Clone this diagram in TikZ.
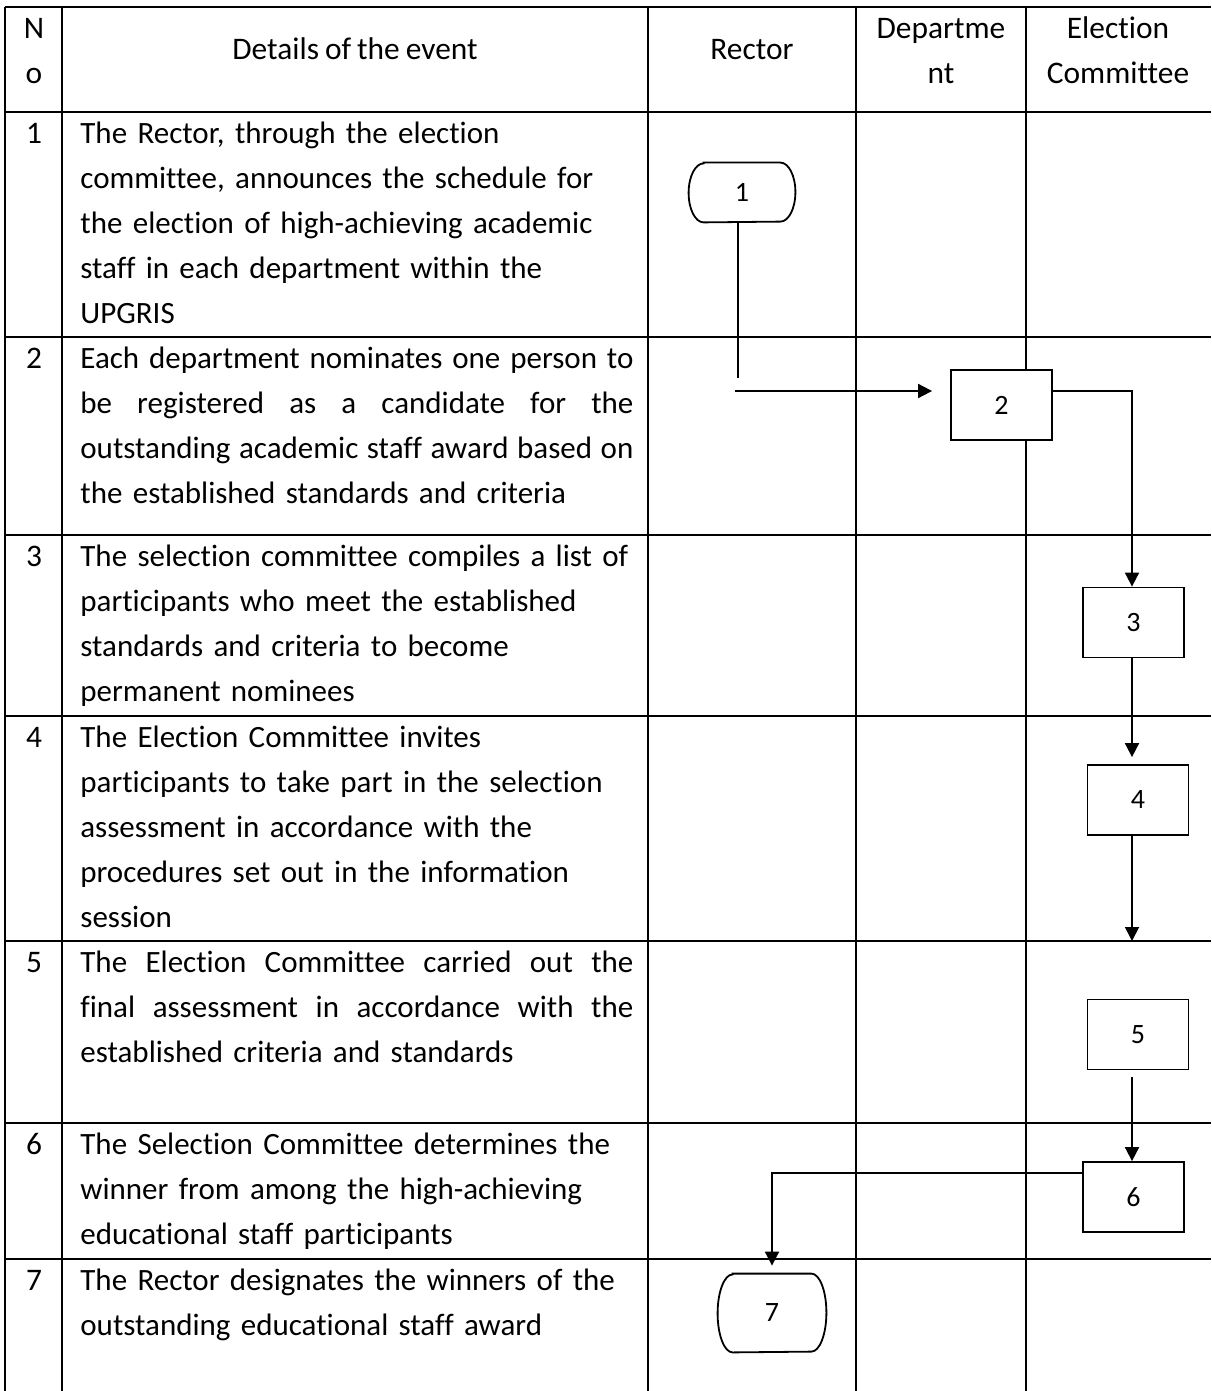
\documentclass[tikz,border=0pt]{standalone}
\usepackage{fontspec}
\setmainfont{Carlito}[Ligatures=NoCommon, WordSpace={0.85,1,2}]
\usetikzlibrary{arrows.meta}
\newcommand{\jline}[1]{\makebox[276.5pt][s]{\spaceskip=0.16em plus 1em\relax #1}}
% terminator outline round a named node: node, end bulge, half height
\newcommand{\termframe}[3]{%
  \draw[line width=0.9pt] ([xshift=#2]#1.north west) -- ([xshift=-#2]#1.north east)
    arc[start angle=90, end angle=-90, x radius=#2, y radius=#3]
    -- ([xshift=#2]#1.south west)
    arc[start angle=270, end angle=90, x radius=#2, y radius=#3] -- cycle;}

\begin{document}
\begin{tikzpicture}[x=0.5pt, y=-0.5pt,
    tabline/.style={line width=1.2pt},
    cell/.style={anchor=north west, inner sep=0pt, text width=290pt, align=left, font=\fontsize{15.5}{22.5}\selectfont},
    head/.style={inner sep=0pt, align=center, font=\fontsize{15.7}{22.5}\selectfont},
    num/.style={anchor=base, inner sep=0pt, font=\fontsize{15.7}{22.5}\selectfont},
    stepbox/.style={draw, line width=0.9pt, fill=white, minimum width=50.5pt, minimum height=35pt, inner sep=0pt, font=\fontsize{14}{16}\selectfont},
    term/.style={inner sep=0pt, font=\fontsize{14}{16}\selectfont},
    arr/.style={-{Triangle[length=7pt,width=7pt]}, line width=0.9pt}
]
\useasboundingbox (0,0) rectangle (1211,1391);

% table
\foreach \x in {5,62,648,856,1026}
  \draw[tabline] (\x,7) -- (\x,1391);
\foreach \y in {7,112,337,535,716,941,1123,1259}
  \draw[tabline] (5,\y) -- (1211,\y);

% header
\node[head, anchor=north] (hno) at (34,7) {\strut N\\o};
\node[head, anchor=base] (hdet) at (355,60) {Details of the event};
\node[head, anchor=base] (hrec) at (752,60) {Rector};
\node[head, anchor=north] (hdep) at (941,7) {\strut Departme\\nt};
\node[head, anchor=north] (hcom) at (1118,7) {\strut Election\\Committee};

% rows
\node[num] (m1) at (34,143.5) {1};
\node[cell] (t1) at (80,112) {\strut The Rector, through the election\\
  committee, announces the schedule for\\
  the election of high-achieving academic\\
  staff in each department within the\\
  UPGRIS};
\node[num] (m2) at (34,368.5) {2};
\node[cell] (t2) at (80,337) {\strut\jline{Each department nominates one person to}\\
  \jline{be registered as a candidate for the}\\
  \jline{outstanding academic staff award based on}\\
  the established standards and criteria};
\node[num] (m3) at (34,566.5) {3};
\node[cell] (t3) at (80,535) {\strut The selection committee compiles a list of\\
  participants who meet the established\\
  standards and criteria to become\\
  permanent nominees};
\node[num] (m4) at (34,747.5) {4};
\node[cell] (t4) at (80,716) {\strut The Election Committee invites\\
  participants to take part in the selection\\
  assessment in accordance with the\\
  procedures set out in the information\\
  session};
\node[num] (m5) at (34,972.5) {5};
\node[cell] (t5) at (80,941) {\strut\jline{The Election Committee carried out the}\\
  \jline{final assessment in accordance with the}\\
  established criteria and standards};
\node[num] (m6) at (34,1154.5) {6};
\node[cell] (t6) at (80,1123) {\strut The Selection Committee determines the\\
  winner from among the high-achieving\\
  educational staff participants};
\node[num] (m7) at (34,1290.5) {7};
\node[cell] (t7) at (80,1259) {\strut The Rector designates the winners of the\\
  outstanding educational staff award};

% flow
\node[term, minimum width=53pt, minimum height=29.5pt] (s1) at (742,192.5) {1};
\node[stepbox] (s2) at (1001.5,405) {2};
\node[stepbox] (s3) at (1133.5,622.5) {3};
\node[stepbox] (s4) at (1138,800) {4};
\node[stepbox] (s5) at (1138,1034.5) {5};
\node[stepbox] (s6) at (1133.5,1197) {6};
\node[term, minimum width=54pt, minimum height=39pt] (s7) at (772,1313) {7};
\termframe{s1}{7.5pt}{14.75pt}
\termframe{s7}{7.5pt}{19.5pt}

\coordinate (k1) at (738,378);
\coordinate (k2) at (735,391);
\coordinate (k4) at (1132,941);
\coordinate (k6) at (772,1173);

\draw[line width=0.7pt] (s1.south -| k1) -- (k1);
\draw[arr, shorten >=9pt] (k2) -- (k2 -| s2.west);
\draw[arr] (k2 -| s2.east) -| (s3.north -| k4);
\draw[arr, shorten >=3.5pt] (s3.south -| k4) -- (s4.north -| k4);
\draw[arr] (s4.south -| k4) -- (k4);
\draw[arr, shorten <=3.5pt] (s5.south -| k4) -- (s6.north -| k4);
\draw[line width=0.7pt, arr, shorten >=4pt] (s6.west |- k6) -| (s7.north);
\end{tikzpicture}
\end{document}
